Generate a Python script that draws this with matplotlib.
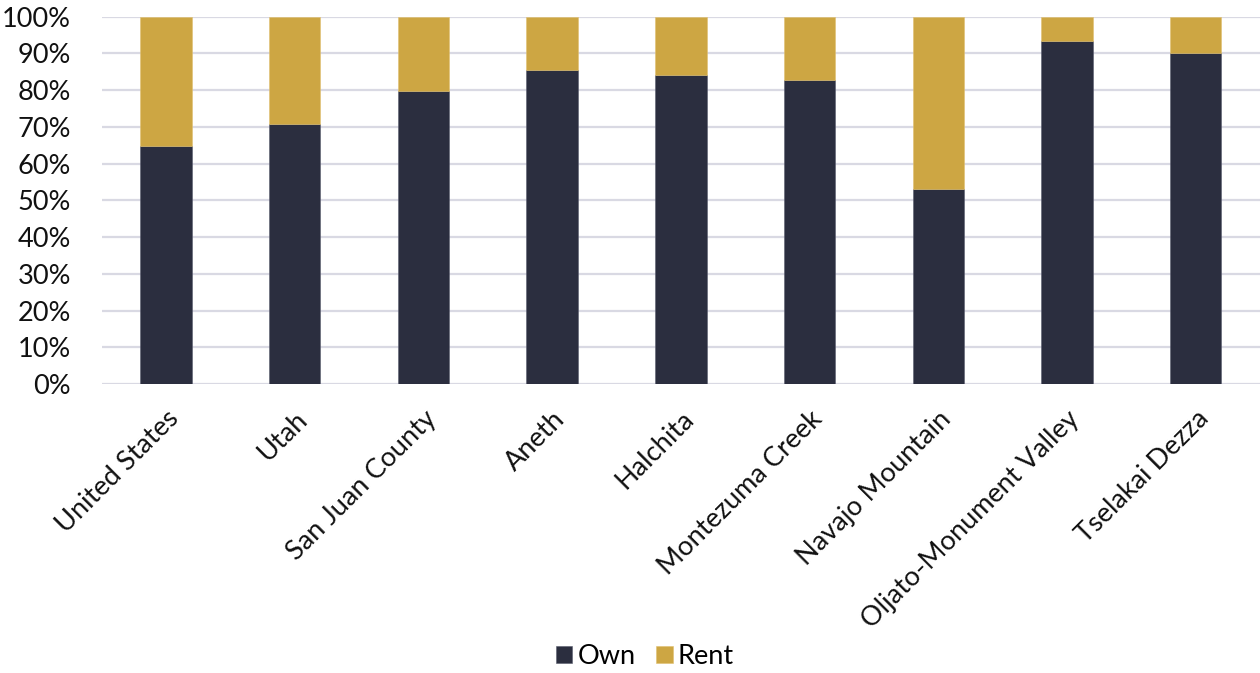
import matplotlib
matplotlib.use("Agg")
import matplotlib.pyplot as plt
from matplotlib.ticker import PercentFormatter

categories = ["United States", "Utah", "San Juan County", "Aneth", "Halchita",
              "Montezuma Creek", "Navajo Mountain", "Oljato-Monument Valley", "Tselakai Dezza"]
own = [64.9, 70.7, 79.7, 85.6, 84.0, 82.7, 53.2, 93.5, 90.0]
rent = [100 - v for v in own]

plt.rcParams['font.family'] = ['Lato', 'DejaVu Sans']
fig = plt.figure(figsize=(12.6, 6.73), dpi=100)
ax = fig.add_axes([0.0807, 0.4294, 0.9193, 0.5458])

x = list(range(len(categories)))
c_own = "#2B2E3F"
c_rent = "#CDA643"
ax.bar(x, own, width=0.4, color=c_own, edgecolor="#5a5d6e", linewidth=0.4, label="Own", zorder=3)
ax.bar(x, rent, width=0.4, bottom=own, color=c_rent, edgecolor="#e0c070", linewidth=0.4, label="Rent", zorder=3)

ax.set_xlim(-0.5, 8.5)
ax.set_ylim(0, 100)
ax.set_yticks(range(0, 101, 10))
ax.yaxis.set_major_formatter(PercentFormatter(decimals=0))
ax.grid(axis='y', color="#D9D9E3", linewidth=1.6, zorder=0)
for s in ax.spines.values():
    s.set_visible(False)
ax.tick_params(axis='both', length=0, labelsize=19.5, colors="#111111")
ax.tick_params(axis='y', pad=22)
ax.set_xticks(x)
ax.set_xticklabels(categories, rotation=45, ha='right', rotation_mode='anchor')
ax.tick_params(axis='x', pad=16)

leg = fig.legend(loc='center', bbox_to_anchor=(0.512, 0.024), ncol=2, frameon=False,
                 fontsize=19.5, handlelength=0.6, handleheight=0.6, handletextpad=0.2,
                 columnspacing=0.75)
fig.savefig("out.png", dpi=100)
